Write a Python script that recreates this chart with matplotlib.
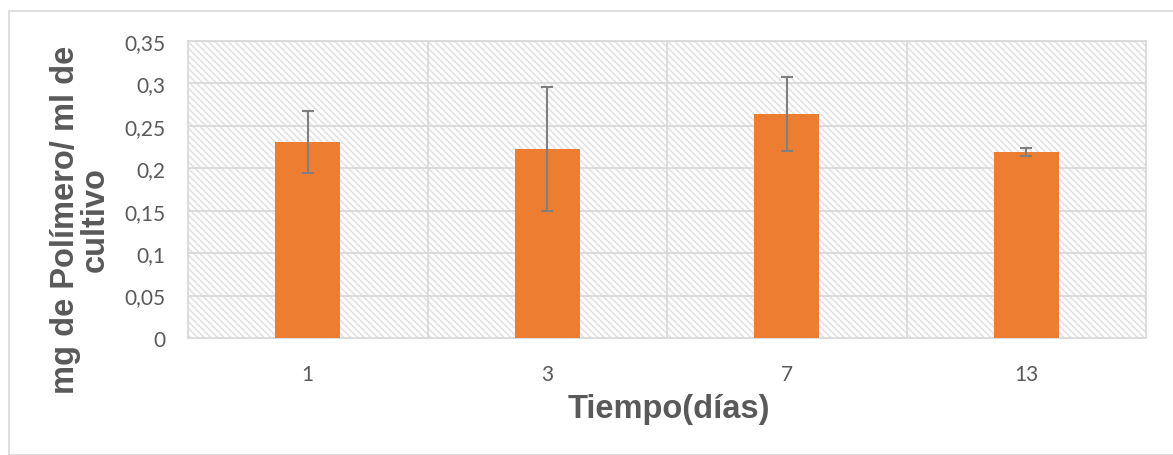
import matplotlib
matplotlib.use("Agg")
import matplotlib.pyplot as plt
from matplotlib.patches import Rectangle
import numpy as np

categories = ["1", "3", "7", "13"]
values = [0.231, 0.223, 0.264, 0.219]
errors = [0.036, 0.073, 0.044, 0.005]
yticks = [0, 0.05, 0.1, 0.15, 0.2, 0.25, 0.3, 0.35]
ytick_labels = ["0", "0,05", "0,1", "0,15", "0,2", "0,25", "0,3", "0,35"]

plt.rcParams["hatch.linewidth"] = 1.2

W, H = 1173, 456
fig = plt.figure(figsize=(W / 100, H / 100), dpi=100)
fig.patch.set_facecolor("white")
fig.patches.append(Rectangle((9 / W, 0), 1.2, 1 - 12 / H, transform=fig.transFigure,
                             fill=False, edgecolor="#D9D9D9", linewidth=1.2))

ax = fig.add_axes([188 / W, 1 - 339 / H, (1146 - 188) / W, (339 - 42) / H])
ax.set_facecolor("white")
bg = Rectangle((0, 0), 1, 1, transform=ax.transAxes, facecolor="white",
               edgecolor="#E2E2E2", linewidth=0, hatch="\\" * 5, zorder=0)
ax.add_patch(bg)

x = np.arange(len(categories))
ax.bar(x, values, width=0.27, color="#ED7D31", zorder=3)
ax.errorbar(x, values, yerr=errors, fmt="none", ecolor="#7F7F7F",
            elinewidth=1.5, capsize=4.5, capthick=1.5, zorder=4)

ax.set_xlim(-0.5, len(categories) - 0.5)
ax.set_ylim(0, 0.35)
ax.set_yticks(yticks)
ax.set_yticklabels(ytick_labels)
ax.set_xticks(x)
ax.set_xticklabels(categories)
for b in np.arange(0.5, len(categories) - 0.5, 1):
    ax.axvline(b, color="#D9D9D9", linewidth=1.3, zorder=1)
for t in yticks[1:]:
    ax.axhline(t, color="#D9D9D9", linewidth=1.3, zorder=1)
for s in ax.spines.values():
    s.set_color("#D9D9D9")
    s.set_linewidth(1.3)
    s.set_zorder(1)
ax.tick_params(axis="both", length=0, colors="#595959", labelsize=15)
ax.tick_params(axis="y", pad=16)
ax.tick_params(axis="x", pad=19)
for lab in ax.get_xticklabels() + ax.get_yticklabels():
    lab.set_family(["Lato", "DejaVu Sans"])

fig.text(669 / W, 1 - 410 / H, "Tiempo(días)", ha="center", va="center",
         fontsize=23.5, fontweight="bold", color="#595959", family="Liberation Sans")
fig.text(80 / W, 1 - 220 / H, "mg de Polímero/ ml de\ncultivo", ha="center", va="center",
         rotation=90, fontsize=23.5, fontweight="bold", color="#595959",
         family="Liberation Sans", linespacing=0.95, multialignment="center")

fig.savefig("out.png", dpi=100)
